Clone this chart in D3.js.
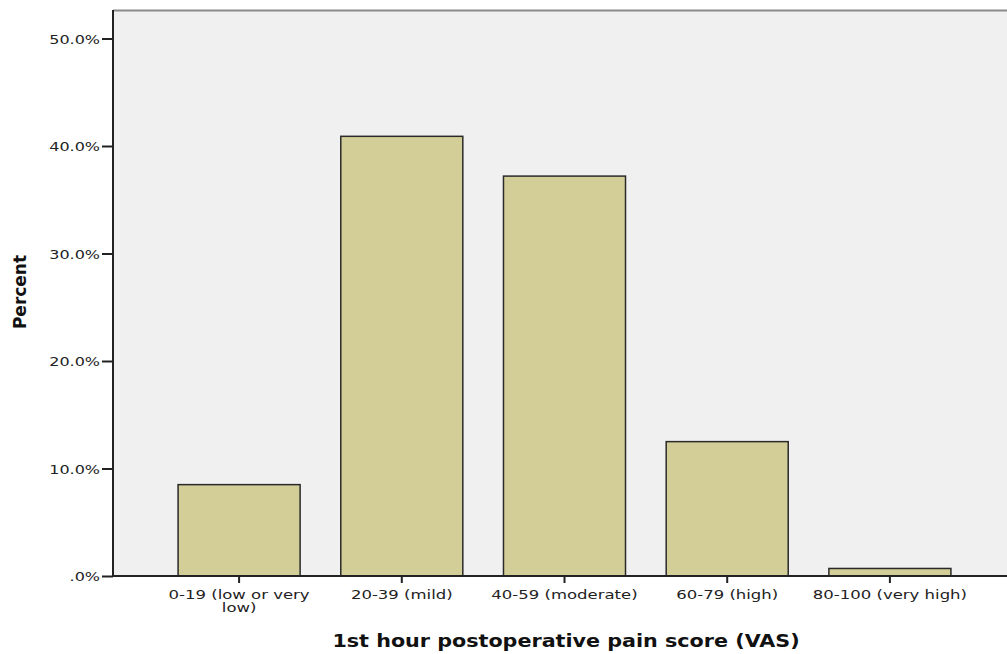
<!DOCTYPE html>
<html><head><meta charset="utf-8">
<script src="https://cdn.jsdelivr.net/npm/d3@7"></script>
<style>body{margin:0;background:#fff;} svg{display:block;}</style>
</head><body>
<svg id="c" width="1007" height="654"></svg>
<script>
const categories = ["0-19 (low or very low)", "20-39 (mild)", "40-59 (moderate)", "60-79 (high)", "80-100 (very high)"];
const categoryLines = [["0-19 (low or very", "low)"], ["20-39 (mild)"], ["40-59 (moderate)"], ["60-79 (high)"], ["80-100 (very high)"]];
const percents = [8.5, 40.9, 37.2, 12.5, 0.7];
const yTicks = [0, 10, 20, 30, 40, 50];
const yTickLabels = [".0%", "10.0%", "20.0%", "30.0%", "40.0%", "50.0%"];

(function(){
const FONT = "DejaVu Sans, Verdana, sans-serif";
const svg = d3.select("#c");
const pL = 113, pR = 1016, pT = 10, pB = 576;
const y = d3.scaleLinear().domain([0, 50]).range([pB, 38.5]);
const x = d3.scaleBand().domain(categories).range([pL, pR]).paddingInner(0.25).paddingOuter(0.4);

svg.append("rect").attr("x", pL).attr("y", pT).attr("width", pR - pL).attr("height", pB - pT).attr("fill", "#f0f0f0");
svg.append("line").attr("x1", pL).attr("x2", pR).attr("y1", pT + 0.5).attr("y2", pT + 0.5).attr("stroke", "#8a8a8a").attr("stroke-width", 2);

svg.selectAll("rect.bar").data(percents).join("rect").attr("class", "bar")
  .attr("x", (d, i) => x(categories[i]))
  .attr("y", d => y(d))
  .attr("width", x.bandwidth())
  .attr("height", d => pB - y(d))
  .attr("fill", "#d3ce98").attr("stroke", "#2a2a2a").attr("stroke-width", 1.5);

const yAxis = d3.axisLeft(y).tickValues(yTicks).tickFormat((d, i) => yTickLabels[i]).tickSize(11).tickPadding(2);
const gy = svg.append("g").attr("transform", `translate(${pL},0)`).call(yAxis);
gy.select(".domain").attr("d", `M0,${pT}V${pB}`).attr("stroke", "#222").attr("stroke-width", 2);
gy.selectAll(".tick line").attr("stroke", "#222").attr("stroke-width", 2);
gy.selectAll(".tick text").attr("font-family", FONT).attr("font-size", 13).attr("fill", "#222")
  .attr("x", 0).attr("dy", "0.36em").attr("transform", "translate(-13,0) scale(1.23,1)");

const xAxis = d3.axisBottom(x).tickSize(7).tickFormat("");
const gx = svg.append("g").attr("transform", `translate(0,${pB})`).call(xAxis);
gx.select(".domain").attr("d", `M${pL},0H${pR}`).attr("stroke", "#222").attr("stroke-width", 2);
gx.selectAll(".tick line").attr("stroke", "#222").attr("stroke-width", 2);
gx.selectAll(".tick").each(function(d, i) {
  const t = d3.select(this).append("text").attr("text-anchor", "middle")
    .attr("transform", "scale(1.27,1)")
    .attr("font-family", FONT).attr("font-size", 13).attr("fill", "#222");
  categoryLines[i].forEach((s, j) => t.append("tspan").attr("x", 0).attr("y", 23.5 + j * 12.5).text(s));
});

svg.append("text").attr("transform", "translate(566,647) scale(1.15,1)").attr("text-anchor", "middle")
  .attr("font-family", FONT).attr("font-weight", "bold").attr("font-size", 18).attr("fill", "#111")
  .text("1st hour postoperative pain score (VAS)");
svg.append("text").attr("transform", "translate(26,292) rotate(-90)").attr("text-anchor", "middle")
  .attr("font-family", FONT).attr("font-weight", "bold").attr("font-size", 17).attr("fill", "#111")
  .text("Percent");
})();
</script>
</body></html>
